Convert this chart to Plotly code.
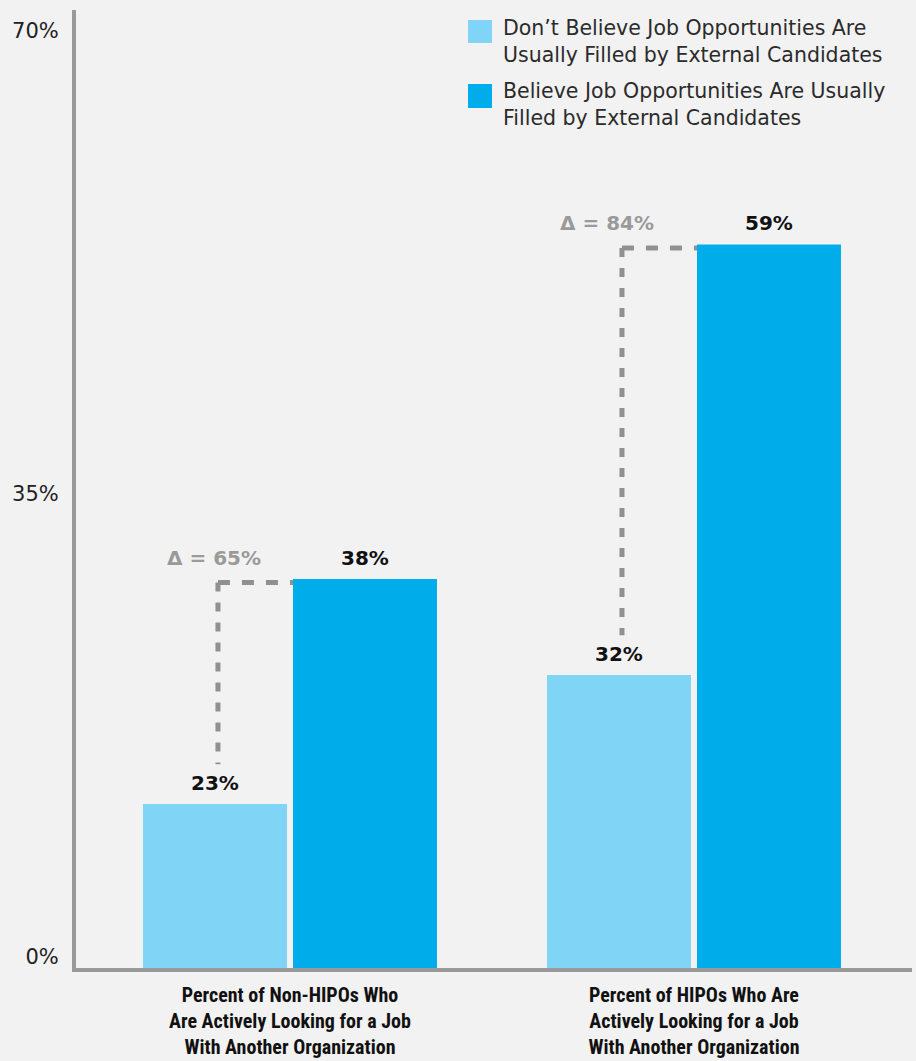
import plotly.graph_objects as go

# ---- data ----
categories = [
    "Percent of Non-HIPOs Who<br>Are Actively Looking for a Job<br>With Another Organization",
    "Percent of HIPOs Who Are<br>Actively Looking for a Job<br>With Another Organization",
]
series_names = [
    "Don’t Believe Job Opportunities Are<br>Usually Filled by External Candidates",
    "Believe Job Opportunities Are Usually<br>Filled by External Candidates",
]
# bar heights as drawn against the axis (percent)
dont_believe_heights = [12.4, 22.15]
believe_heights = [29.4, 54.7]
# printed value labels
dont_believe_labels = ["23%", "32%"]
believe_labels = ["38%", "59%"]
delta_labels = ["Δ = 65%", "Δ = 84%"]
y_tick_vals = [0, 35, 70]
y_tick_text = ["0%", "35%", "70%"]

# ---- styles ----
BG = "#f2f2f2"
LIGHT = "#80d5f7"
DARK = "#00adeb"
AXIS = "#999999"
DASH = "#909090"
FONT = "DejaVu Sans"
CAT_FONT = "Roboto Condensed, Liberation Sans Narrow, Roboto"

x_pos = [0, 1]
bar_w = 0.3564
off_light = -0.3639
off_dark = 0.0074

fig = go.Figure()
fig.add_trace(go.Bar(x=x_pos, y=dont_believe_heights, name=series_names[0],
                     marker=dict(color=LIGHT, line=dict(width=0)),
                     width=bar_w, offset=off_light, showlegend=False))
fig.add_trace(go.Bar(x=x_pos, y=believe_heights, name=series_names[1],
                     marker=dict(color=DARK, line=dict(width=0)),
                     width=bar_w, offset=off_dark, showlegend=False))

annotations = []
shapes = []
delta_xshift = [-1, -12]
for i, x in enumerate(x_pos):
    lx = x + off_light + bar_w / 2
    dx = x + off_dark + bar_w / 2
    annotations.append(dict(x=lx, y=dont_believe_heights[i], xref="x", yref="y",
                            text=f"<b>{dont_believe_labels[i]}</b>", showarrow=False,
                            yanchor="bottom", yshift=7,
                            font=dict(family=FONT, size=20, color="#111111")))
    annotations.append(dict(x=dx, y=believe_heights[i], xref="x", yref="y",
                            text=f"<b>{believe_labels[i]}</b>", showarrow=False,
                            yanchor="bottom", yshift=7,
                            font=dict(family=FONT, size=20, color="#111111")))
    annotations.append(dict(x=lx, y=believe_heights[i], xref="x", yref="y",
                            text=f"<b>{delta_labels[i]}</b>", showarrow=False,
                            yanchor="bottom", yshift=7, xshift=delta_xshift[i],
                            font=dict(family=FONT, size=20, color="#9a9a9a")))
    # dashed connector
    vx = x + off_light + bar_w / 2 + 0.0074
    ytop = believe_heights[i] - 0.265
    ybot = dont_believe_heights[i] + 3.0
    shapes.append(dict(type="line", xref="x", yref="y", x0=vx, y0=ytop, x1=vx, y1=ybot,
                       line=dict(color=DASH, width=5, dash="9px,11px")))
    shapes.append(dict(type="line", xref="x", yref="y", x0=vx, y0=ytop,
                       x1=x + off_dark, y1=ytop,
                       line=dict(color=DASH, width=5, dash="12px,12px")))

# custom legend
legend_colors = [LIGHT, DARK]
legend_y_px = [(20, 43), (84, 108)]
legend_text_y_px = [41.5, 105]
pl, pr, pt, pb = 76, 912, 10, 968
W = pr - pl
H = pb - pt
def px_x(px):
    return (px - pl) / W
def px_y(py):
    return (pb - py) / H
for i in range(2):
    y0, y1 = legend_y_px[i]
    shapes.append(dict(type="rect", xref="paper", yref="paper",
                       x0=px_x(468), x1=px_x(492), y0=px_y(y1), y1=px_y(y0),
                       fillcolor=legend_colors[i], line=dict(width=0)))
    annotations.append(dict(xref="paper", yref="paper", x=px_x(501), y=px_y(legend_text_y_px[i]),
                            xanchor="left", yanchor="middle", align="left", showarrow=False,
                            text=series_names[i],
                            font=dict(family=FONT, size=20.5, color="#2b2b2b")))

fig.update_layout(
    width=916, height=1061,
    margin=dict(l=pl, r=916 - pr, t=pt, b=1061 - pb, pad=0, autoexpand=False),
    paper_bgcolor=BG, plot_bgcolor=BG,
    barmode="overlay",
    showlegend=False,
    shapes=shapes,
    annotations=annotations,
    xaxis=dict(range=[-0.5297, 1.5396], tickvals=x_pos, ticktext=[f"<b>{c}</b>" for c in categories],
               showline=True, linecolor=AXIS, linewidth=4, ticks="", showgrid=False,
               zeroline=False, automargin=False,
               tickfont=dict(family=CAT_FONT, size=20, color="#111111"),
               ticklabelstandoff=6),
    yaxis=dict(range=[0, 72.42], tickvals=y_tick_vals, ticktext=y_tick_text,
               showline=True, linecolor=AXIS, linewidth=4, ticks="", showgrid=False,
               zeroline=False, automargin=False,
               tickfont=dict(family=FONT, size=21, color="#222222"),
               ticklabelshift=-11, ticklabelstandoff=9),
)

fig.write_html("out.html")
